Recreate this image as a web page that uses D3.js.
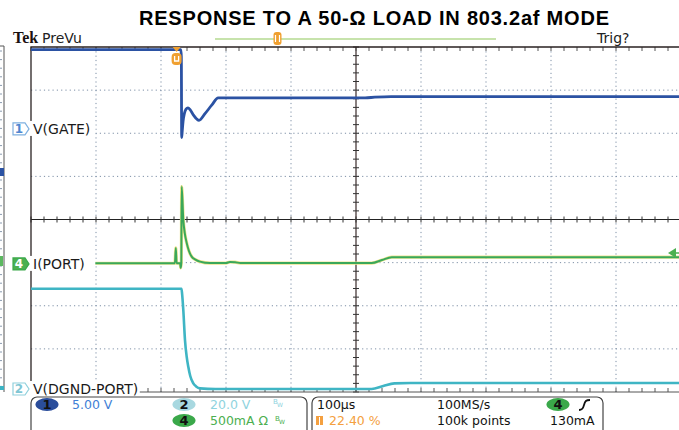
<!DOCTYPE html>
<html>
<head>
<meta charset="utf-8">
<script src="https://cdn.jsdelivr.net/npm/d3@7"></script>
<style>
    body { margin: 0; background: #fff; }
    svg { display: block; font-family: "DejaVu Sans", sans-serif; }
</style>
</head>
<body>
<svg id="scope"></svg>
<script>
// time axis in us: 100 us/div, trigger at 22.40 % of the record
const timeDomain = [-224, 776];

// CH1 V(GATE), volts
const gateVoltage = [
    [-224, 9.2], [6.5, 9.2], [7.3, 8.4], [7.8, -1.0], [8.6, -0.3], [10, 0.9],
    [12, 1.8], [14.5, 2.3], [17.5, 2.45], [21, 2.2], [26, 1.6], [31, 1.15],
    [34.5, 1.0], [44, 1.8], [54, 2.75], [64, 3.6], [290, 3.6], [305, 3.68],
    [330, 3.75], [776, 3.75]
];

// CH4 I(PORT), mA
const portCurrent = [
    [-224, 8], [-2.6, 8], [-1.2, 186], [0, 8], [5.5, 8], [6.3, -46], [7.2, 8],
    [7.8, 897], [10.3, 510], [12.5, 360], [15.5, 244], [19, 150], [23.2, 85],
    [29, 50], [36, 27], [51.5, 10], [76, 10], [82, 22], [90, 20], [98, 10],
    [300, 10], [316, 45], [331, 78], [776, 78]
];

// CH2 V(DGND-PORT), volts
const portVoltage = [
    [-224, 46.5], [7.5, 46.5], [8.5, 44], [10.3, 36.7], [12.9, 22.7], [15.5, 15],
    [18, 10.3], [21, 6], [25.7, 2.6], [30, 1.2], [36, 0.3], [60, 0], [300, 0],
    [318, 1.4], [335, 2.6], [360, 2.8], [776, 2.8]
];

const channelLabels = ["V(GATE)", "I(PORT)", "V(DGND-PORT)"];
const voltsPerDiv = [5, 500, 20];

class ScopeChart {
    constructor(_config) {
        this.config = {
            parentElement: _config.parentElement,
            containerWidth: 679,
            containerHeight: 430,
            plot: { left: 31, right: 681, top: 47, bottom: 392 },
            // ground marker position of each channel, in divisions from center
            offsets: [2.1, -1.03, -3.93],
        };
        this.initVis();
    }

    initVis() {
        let vis = this;
        const p = vis.config.plot;

        vis.svg = d3.select(vis.config.parentElement)
            .attr("width", vis.config.containerWidth)
            .attr("height", vis.config.containerHeight);

        vis.xScale = d3.scaleLinear().domain(timeDomain).range([p.left, p.right]);
        // vertical in divisions, 8 divs
        vis.yScale = d3.scaleLinear().domain([-4, 4]).range([p.bottom, p.top]);

        vis.gridG = vis.svg.append("g");
        vis.traceG = vis.svg.append("g");
        vis.labelG = vis.svg.append("g");
        vis.infoG = vis.svg.append("g");

        vis.renderVis();
    }

    renderVis() {
        let vis = this;
        const p = vis.config.plot;
        const divX = d3.range(1, 10).map(i => timeDomain[0] + i * 100);
        const divY = d3.range(-3, 4);

        // title
        vis.svg.append("text")
            .attr("x", 374).attr("y", 25)
            .attr("text-anchor", "middle")
            .attr("font-family", "Liberation Sans, Arial, sans-serif")
            .attr("font-weight", "bold")
            .attr("font-size", 20)
            .attr("textLength", 470)
            .text("RESPONSE TO A 50-\u03A9 LOAD IN 803.2af MODE");

        vis.svg.append("text")
            .attr("x", 13).attr("y", 43)
            .attr("font-family", "Liberation Serif, serif")
            .attr("font-weight", "bold").attr("font-size", 16)
            .attr("fill", "#1a1010")
            .text("Tek");
        vis.svg.append("text")
            .attr("x", 42).attr("y", 43).attr("font-size", 14).attr("fill", "#222")
            .text("PreVu");
        vis.svg.append("text")
            .attr("x", 597).attr("y", 43).attr("font-size", 14).attr("fill", "#222")
            .text("Trig?");

        // record view bar
        vis.svg.append("line")
            .attr("x1", 215).attr("x2", 496).attr("y1", 39).attr("y2", 39)
            .attr("stroke", "#8fc85a").attr("stroke-width", 1.2);
        vis.svg.append("rect")
            .attr("x", 273.5).attr("y", 32).attr("width", 8).attr("height", 13).attr("rx", 3)
            .attr("fill", "#f0a030");
        vis.svg.append("path")
            .attr("d", "M275.5,35 v7 M279.5,35 v7")
            .attr("stroke", "#fff").attr("stroke-width", 1.2);

        // left strip from the neighbouring capture
        vis.gridG.append("path")
            .attr("d", "M0,46 H4 V392")
            .attr("fill", "none").attr("stroke", "#555").attr("stroke-width", 1);
        vis.gridG.selectAll(".strip-tick")
            .data(d3.range(p.top + 4, p.bottom, 8.6))
            .join("line")
            .attr("x1", 0).attr("x2", 2)
            .attr("y1", d => d).attr("y2", d => d)
            .attr("stroke", "#8a9bb0");
        vis.gridG.append("rect").attr("x", 0).attr("y", 168).attr("width", 4).attr("height", 8).attr("fill", "#2b52a3");
        vis.gridG.append("rect").attr("x", 0).attr("y", 256).attr("width", 3).attr("height", 10).attr("fill", "#5cb860");
        vis.gridG.append("rect").attr("x", 0).attr("y", 386).attr("width", 4).attr("height", 4).attr("fill", "#3bb3c3");

        // dotted graticule
        vis.gridG.selectAll(".vgrid")
            .data(divX.filter((d, i) => i !== 4))
            .join("line")
            .attr("x1", d => vis.xScale(d)).attr("x2", d => vis.xScale(d))
            .attr("y1", p.top).attr("y2", p.bottom)
            .attr("stroke", "#7d8fa6").attr("stroke-width", 1)
            .attr("stroke-dasharray", "1.2,3.1");
        vis.gridG.selectAll(".hgrid")
            .data(divY.filter(d => d !== 0))
            .join("line")
            .attr("x1", p.left).attr("x2", p.right)
            .attr("y1", d => vis.yScale(d)).attr("y2", d => vis.yScale(d))
            .attr("stroke", "#7d8fa6").attr("stroke-width", 1)
            .attr("stroke-dasharray", "1.2,3.1");

        // center cross with minor ticks
        const cx = vis.xScale(timeDomain[0] + 500);
        const cy = vis.yScale(0);
        vis.gridG.append("line")
            .attr("x1", p.left).attr("x2", p.right).attr("y1", cy).attr("y2", cy)
            .attr("stroke", "#222").attr("stroke-width", 1.2);
        vis.gridG.append("line")
            .attr("x1", cx).attr("x2", cx).attr("y1", p.top).attr("y2", p.bottom)
            .attr("stroke", "#3a2a2a").attr("stroke-width", 1.2);
        const minorX = d3.range(timeDomain[0], timeDomain[1] + 1, 20).map(vis.xScale);
        const minorY = d3.range(-4, 4.01, 0.2).map(vis.yScale);
        vis.gridG.selectAll(".hx-tick").data(minorX).join("line")
            .attr("x1", d => d).attr("x2", d => d).attr("y1", cy - 3).attr("y2", cy + 3)
            .attr("stroke", "#333");
        vis.gridG.selectAll(".vy-tick").data(minorY).join("line")
            .attr("x1", cx - 3).attr("x2", cx + 3).attr("y1", d => d).attr("y2", d => d)
            .attr("stroke", "#333");
        vis.gridG.selectAll(".top-tick").data(minorX).join("line")
            .attr("x1", d => d).attr("x2", d => d).attr("y1", p.top).attr("y2", p.top + 4)
            .attr("stroke", "#555");
        vis.gridG.selectAll(".bot-tick").data(minorX).join("line")
            .attr("x1", d => d).attr("x2", d => d).attr("y1", p.bottom - 4).attr("y2", p.bottom)
            .attr("stroke", "#555");

        // frame
        vis.gridG.append("path")
            .attr("d", `M${p.left},${p.bottom} V${p.top} H${p.right}`)
            .attr("fill", "none").attr("stroke", "#2a2222").attr("stroke-width", 1.3);
        vis.gridG.append("line")
            .attr("x1", p.left).attr("x2", p.right).attr("y1", p.bottom).attr("y2", p.bottom)
            .attr("stroke", "#555").attr("stroke-width", 1);

        // traces
        const lineFor = (idx) => d3.line()
            .x(d => vis.xScale(d[0]))
            .y(d => vis.yScale(vis.config.offsets[idx] + d[1] / voltsPerDiv[idx]))
            .curve(d3.curveMonotoneX);

        vis.traceG.append("path")
            .attr("d", lineFor(2)(portVoltage))
            .attr("fill", "none").attr("stroke", "#3fb5c4").attr("stroke-width", 2.6);
        vis.traceG.append("path")
            .attr("d", lineFor(1)(portCurrent))
            .attr("fill", "none").attr("stroke", "#efe48c").attr("stroke-width", 3.2);
        vis.traceG.append("path")
            .attr("d", lineFor(1)(portCurrent))
            .attr("fill", "none").attr("stroke", "#3aa85a").attr("stroke-width", 2);
        vis.traceG.append("path")
            .attr("d", lineFor(0)(gateVoltage))
            .attr("fill", "none").attr("stroke", "#2b52a3").attr("stroke-width", 2.8);

        // trigger position marker
        const tx = vis.xScale(0);
        vis.traceG.append("path")
            .attr("d", `M${tx - 4},${p.top} L${tx + 4},${p.top} L${tx},${p.top + 5} Z`)
            .attr("fill", "#f0a030");
        vis.traceG.append("rect")
            .attr("x", tx - 5).attr("y", p.top + 6).attr("width", 10).attr("height", 12).attr("rx", 4)
            .attr("fill", "#f0a030");
        vis.traceG.append("path")
            .attr("d", `M${tx - 2},${p.top + 9} v5 h4 v-5`)
            .attr("fill", "none").attr("stroke", "#fff").attr("stroke-width", 1.3);

        // trigger level marker on right edge
        vis.traceG.append("path")
            .attr("d", "M668,253 L676,248 L676,258 Z")
            .attr("fill", "#4cb050");
        vis.traceG.append("line")
            .attr("x1", 674).attr("x2", 679).attr("y1", 253).attr("y2", 253)
            .attr("stroke", "#4cb050").attr("stroke-width", 1.5);

        // channel ground markers and labels
        const markers = [
            { n: "1", stroke: "#7fb0e0", fill: "#fff", text: "#4f86d0" },
            { n: "4", stroke: "#3aa84a", fill: "#4cb050", text: "#fff" },
            { n: "2", stroke: "#8fd0dc", fill: "#fff", text: "#7fc6d4" },
        ];
        markers.forEach((m, i) => {
            const y = vis.yScale(vis.config.offsets[i]);
            const g = vis.labelG.append("g");
            g.append("rect")
                .attr("x", 29).attr("y", y - 8)
                .attr("width", channelLabels[i].length * 8.9 + 4).attr("height", 15)
                .attr("fill", "#fff");
            g.append("path")
                .attr("d", `M13,${y - 6} H25 L29,${y} L25,${y + 6} H13 Z`)
                .attr("fill", m.fill).attr("stroke", m.stroke).attr("stroke-width", 1.2);
            g.append("text")
                .attr("x", 19).attr("y", y + 4.5).attr("text-anchor", "middle")
                .attr("font-size", 12).attr("font-weight", "bold").attr("fill", m.text)
                .text(m.n);
            g.append("text")
                .attr("x", 33).attr("y", y + 5.5)
                .attr("font-size", 14).attr("fill", "#1a1a1a")
                .text(channelLabels[i]);
        });

        // info panels
        vis.infoG.append("rect")
            .attr("x", 31).attr("y", 397).attr("width", 276).attr("height", 45).attr("rx", 6)
            .attr("fill", "#fff").attr("stroke", "#444").attr("stroke-width", 1.2);
        vis.infoG.append("rect")
            .attr("x", 312).attr("y", 397).attr("width", 291).attr("height", 45).attr("rx", 6)
            .attr("fill", "#fff").attr("stroke", "#444").attr("stroke-width", 1.2);

        const badge = (x, y, n, fill) => {
            vis.infoG.append("ellipse")
                .attr("cx", x).attr("cy", y).attr("rx", 11.5).attr("ry", 6.5)
                .attr("fill", fill);
            vis.infoG.append("text")
                .attr("x", x).attr("y", y + 4.5).attr("text-anchor", "middle")
                .attr("font-size", 13).attr("font-weight", "bold").attr("fill", "#111")
                .text(n);
        };
        const info = (x, y, s, color, size) => {
            vis.infoG.append("text")
                .attr("x", x).attr("y", y).attr("font-size", size || 12.5)
                .attr("fill", color).text(s);
        };
        badge(47, 404.5, "1", "#2a4d9b");
        info(72, 409, "5.00 V", "#3f7fd6");
        badge(184, 404.5, "2", "#a8d8e0");
        info(210, 409, "20.0 V", "#8fd3de");
        info(273, 404, "B", "#8fd3de", 7);
        info(277, 407, "W", "#8fd3de", 6);
        badge(184, 420.5, "4", "#3aa84a");
        info(210, 425, "500mA \u03A9", "#4caf50");
        info(275, 421, "B", "#4caf50", 7);
        info(279, 424, "W", "#4caf50", 6);

        info(317, 409, "100\u00B5s", "#111");
        vis.infoG.append("rect")
            .attr("x", 316).attr("y", 416).attr("width", 7).attr("height", 9)
            .attr("fill", "#f4a040");
        vis.infoG.append("line")
            .attr("x1", 319.5).attr("x2", 319.5).attr("y1", 417).attr("y2", 425)
            .attr("stroke", "#fff").attr("stroke-width", 1);
        info(329, 425, "22.40 %", "#f4a040");

        info(437, 409, "100MS/s", "#111");
        info(437, 425, "100k points", "#111");
        badge(558, 404.5, "4", "#3aa84a");
        vis.infoG.append("path")
            .attr("d", "M579,410 C582,410 583,409 584,405 C585,401 586,400 590,400")
            .attr("fill", "none").attr("stroke", "#111").attr("stroke-width", 1.8);
        info(550, 425, "130mA", "#111");
    }
}

const scope = new ScopeChart({ parentElement: "#scope" });
</script>
</body>
</html>
